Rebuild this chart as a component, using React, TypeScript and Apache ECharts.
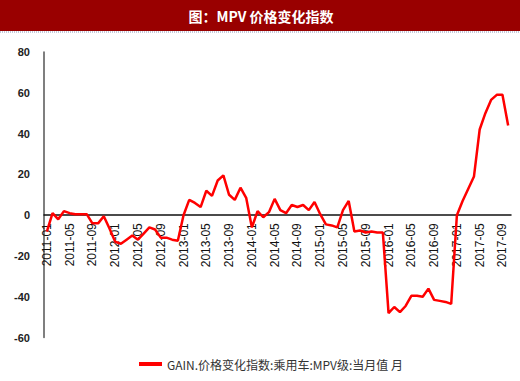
import React, { useEffect, useRef } from "react";
import * as echarts from "echarts";

const titleText = "图：MPV 价格变化指数";
const seriesName = "GAIN.价格变化指数:乘用车:MPV级:当月值 月";

const startYear = 2011;
const monthCount = 82; // 2011-01 .. 2017-10
const months: string[] = [];
for (let i = 0; i < monthCount; i++) {
  const y = startYear + Math.floor(i / 12);
  const m = (i % 12) + 1;
  months.push(`${y}-${m < 10 ? "0" + m : m}`);
}

const values2011 = [-8, 1, -2, 2, 1, 0.5, 0.5, 0.5, -4, -4, -0.5, -6.5];
const values2012 = [-13, -14, -12, -10, -12, -9, -6, -7, -11, -11, -12, -12.5];
const values2013 = [0, 7.5, 6, 4, 12, 9.5, 17, 19.5, 10, 7.5, 13.5, 8.5];
const values2014 = [-6, 2, -1, 1.5, 8, 2.5, 1, 5, 4, 5, 2.5, 6.5];
const values2015 = [0.5, -4.5, -5, -6, 2.5, 7, -8, -7.5, -8.5, -8, -8.5, -8.5];
const values2016 = [-48, -45, -47.5, -44.5, -39.5, -39.5, -40, -36, -41.5, -42, -42.5, -43.5];
const values2017 = [0, 7, 13, 19, 42, 50, 56.5, 59, 59, 44];

const values = [
  ...values2011,
  ...values2012,
  ...values2013,
  ...values2014,
  ...values2015,
  ...values2016,
  ...values2017,
];

const yTicks = { min: -60, max: 80, interval: 20 };

const GRID_TOP = 52;
const GRID_HEIGHT = 285.6;

export default function App() {
  const ref = useRef<HTMLDivElement>(null);
  useEffect(() => {
    if (!ref.current) return;
    const chart = echarts.init(ref.current, undefined, { renderer: "svg" });
    // distance from grid bottom up to the zero line
    const zeroOffset = (GRID_HEIGHT * (0 - yTicks.min)) / (yTicks.max - yTicks.min);
    chart.setOption({
      animation: false,
      backgroundColor: "#ffffff",
      graphic: [
        {
          type: "rect",
          left: 0,
          top: 0,
          shape: { width: 520, height: 31 },
          style: { fill: "#990000" },
          z: 0,
        },
        {
          type: "line",
          shape: { x1: 0, y1: 32, x2: 520, y2: 32 },
          style: { stroke: "#8a95b8", lineWidth: 1, lineDash: [1, 1] },
        },
        {
          type: "text",
          x: 261,
          y: 16,
          style: {
            text: titleText,
            fill: "#ffffff",
            font: "bold 14px 'Noto Sans CJK SC', sans-serif",
            textAlign: "center",
            textVerticalAlign: "middle",
          },
          z: 10,
        },
      ],
      grid: {
        left: 44,
        top: GRID_TOP,
        width: 467,
        height: GRID_HEIGHT,
        containLabel: false,
        outerBoundsMode: "none",
      },
      legend: {
        bottom: 6,
        left: 134,
        itemWidth: 23,
        itemHeight: 4,
        icon: "rect",
        itemGap: 4,
        textStyle: {
          fontSize: 12,
          color: "#333",
          fontFamily: "'Noto Sans CJK SC', sans-serif",
        },
        data: [seriesName],
      },
      xAxis: {
        type: "category",
        data: months,
        boundaryGap: true,
        position: "bottom",
        offset: -zeroOffset,
        axisLine: { onZero: false, lineStyle: { color: "#111", width: 1.5 } },
        axisTick: { show: false },
        axisLabel: {
          interval: 3,
          rotate: 90,
          fontSize: 12,
          color: "#111",
          margin: 8,
          fontFamily: "'Liberation Sans', Arial, sans-serif",
        },
        splitLine: { show: false },
      },
      yAxis: {
        type: "value",
        min: yTicks.min,
        max: yTicks.max,
        interval: yTicks.interval,
        axisLine: { show: true, lineStyle: { color: "#555", width: 1.5 } },
        axisTick: { show: false },
        splitLine: { show: false },
        axisLabel: {
          fontSize: 11,
          fontWeight: "bold",
          color: "#222",
          margin: 14,
          fontFamily: "'Liberation Sans', Arial, sans-serif",
        },
      },
      series: [
        {
          name: seriesName,
          type: "line",
          data: values,
          symbol: "none",
          lineStyle: { color: "#ff0000", width: 2.5 },
          itemStyle: { color: "#ff0000" },
          z: 5,
        },
      ],
    });
    return () => chart.dispose();
  }, []);
  return (
    <div
      ref={ref}
      style={{ position: "fixed", left: 0, top: 0, width: 520, height: 381 }}
    />
  );
}
